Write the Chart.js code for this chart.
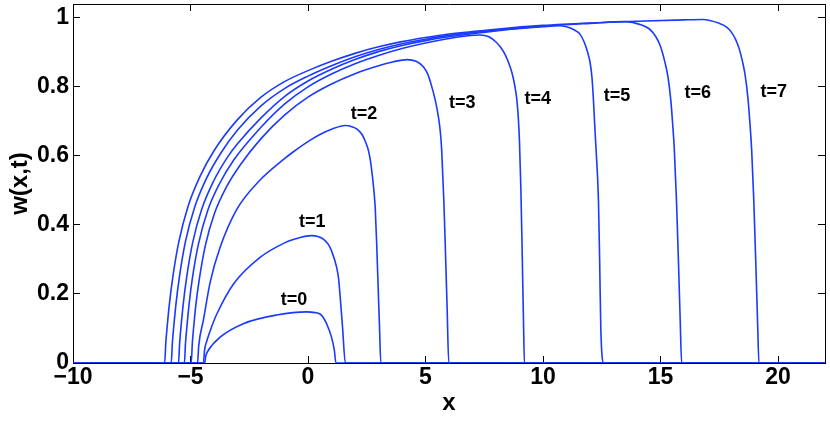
<!DOCTYPE html>
<html>
<head>
<meta charset="utf-8">
<script src="https://cdn.jsdelivr.net/npm/chart.js@4.4.0/dist/chart.umd.min.js"></script>
<style>
  html, body { margin: 0; padding: 0; background: #fff; }
  canvas { display: block; }
</style>
</head>
<body>
<canvas id="c" width="830" height="422"></canvas>
<script>
// ---- data ----
const xTicks = [-10, -5, 0, 5, 10, 15, 20];
const yTicks = [0, 0.2, 0.4, 0.6, 0.8, 1];
const curveNames = ['t=0', 't=1', 't=2', 't=3', 't=4', 't=5', 't=6', 't=7'];

const x0 = [-10, -4.4, -4.35, -4.24, -3.74, -2.75, -1.33, -0.06, 0.3, 0.51, 0.65, 0.79, 1.0, 1.12, 1.19, 22];
const w0 = [0, 0, 0.02, 0.037, 0.075, 0.114, 0.139, 0.148, 0.146, 0.142, 0.132, 0.114, 0.075, 0.037, 0, 0];

const x1 = [-10, -4.45, -4.4, -4.3, -4.1, -3.88, -3.17, -2.04, -1.0, -0.62, 0.15, 0.45, 0.65, 0.85, 1.0, 1.22, 1.3, 1.36, 1.47, 1.59, 22];
const w1 = [0, 0, 0.038, 0.065, 0.105, 0.142, 0.229, 0.306, 0.348, 0.358, 0.369, 0.366, 0.359, 0.345, 0.325, 0.277, 0.245, 0.2, 0.104, 0, 0];

const x2 = [-10, -4.7, -4.65, -4.45, -4.16, -3.74, -3.03, -2.04, -1.0, -0.62, 0.08, 0.51, 1.0, 1.58, 1.9, 2.1, 2.3, 2.45, 2.57, 2.67, 2.75, 2.81, 2.86, 2.92, 2.98, 3.04, 3.1, 22];
const w2 = [0, 0, 0.05, 0.125, 0.235, 0.335, 0.445, 0.53, 0.592, 0.612, 0.645, 0.662, 0.677, 0.688, 0.684, 0.677, 0.662, 0.64, 0.616, 0.58, 0.535, 0.495, 0.45, 0.35, 0.23, 0.11, 0, 0];

const x3 = [-10, -4.97, -4.92, -4.87, -4.77, -4.62, -4.37, -3.97, -3.47, -2.87, -2.0, -1.0, 0, 1, 2, 3, 3.6, 4.21, 4.6, 4.91, 5.1, 5.27, 5.42, 5.55, 5.63, 5.69, 5.78, 5.85, 5.92, 5.99, 22];
const w3 = [0, 0, 0.06, 0.10, 0.17, 0.245, 0.34, 0.435, 0.51, 0.575, 0.65, 0.718, 0.77, 0.808, 0.838, 0.861, 0.872, 0.879, 0.874, 0.858, 0.836, 0.80, 0.76, 0.713, 0.67, 0.616, 0.471, 0.32, 0.16, 0, 0];

const x4 = [-10, -5.26, -5.21, -5.16, -5.06, -4.91, -4.66, -4.26, -3.76, -3.16, -2.0, -1.0, 0, 1, 2, 3, 4, 5, 6, 6.8, 7.32, 7.7, 8.0, 8.18, 8.4, 8.6, 8.72, 8.82, 8.89, 8.95, 9.0, 9.06, 9.12, 9.17, 9.21, 22];
const w4 = [0, 0, 0.06, 0.10, 0.17, 0.25, 0.345, 0.443, 0.52, 0.588, 0.683, 0.75, 0.8, 0.837, 0.867, 0.891, 0.911, 0.927, 0.94, 0.948, 0.95, 0.945, 0.93, 0.916, 0.892, 0.858, 0.83, 0.795, 0.761, 0.71, 0.64, 0.5, 0.3, 0.12, 0, 0];

const x5 = [-10, -5.51, -5.46, -5.41, -5.31, -5.16, -4.91, -4.51, -4.01, -3.41, -3.0, -2.0, -1.0, 0, 1, 2, 3, 4, 5, 6, 8, 10, 10.7, 11.0, 11.3, 11.58, 11.75, 11.9, 12.0, 12.08, 12.14, 12.2, 12.26, 12.36, 12.41, 12.46, 12.59, 22];
const w5 = [0, 0, 0.06, 0.10, 0.17, 0.25, 0.348, 0.448, 0.528, 0.598, 0.635, 0.71, 0.772, 0.817, 0.851, 0.879, 0.902, 0.92, 0.934, 0.945, 0.962, 0.974, 0.977, 0.974, 0.966, 0.952, 0.93, 0.9, 0.872, 0.83, 0.77, 0.69, 0.616, 0.471, 0.3, 0.1, 0, 0];

const x6 = [-10, -5.82, -5.77, -5.72, -5.62, -5.47, -5.22, -4.82, -4.32, -3.72, -3.0, -2.0, -1.0, 0, 1, 2, 3, 4, 5, 6, 8, 10, 12, 13.5, 14.2, 14.5, 14.7, 14.9, 15.05, 15.2, 15.32, 15.44, 15.52, 15.59, 15.68, 15.77, 15.84, 15.9, 22];
const w6 = [0, 0, 0.06, 0.10, 0.17, 0.25, 0.35, 0.452, 0.535, 0.607, 0.675, 0.745, 0.795, 0.831, 0.861, 0.887, 0.908, 0.925, 0.938, 0.949, 0.964, 0.976, 0.984, 0.989, 0.979, 0.969, 0.955, 0.933, 0.907, 0.868, 0.828, 0.76, 0.69, 0.616, 0.471, 0.28, 0.12, 0, 0];

const x7 = [-10, -6.1, -6.05, -6.0, -5.9, -5.75, -5.5, -5.1, -4.6, -4.0, -3.0, -2.0, -1.0, 0, 1, 2, 3, 4, 5, 6, 8, 10, 12, 14, 16, 16.8, 17.5, 17.8, 18.0, 18.2, 18.35, 18.5, 18.61, 18.73, 18.81, 18.88, 18.97, 19.06, 19.13, 19.19, 22];
const w7 = [0, 0, 0.06, 0.10, 0.17, 0.25, 0.35, 0.455, 0.54, 0.615, 0.705, 0.77, 0.815, 0.847, 0.874, 0.897, 0.916, 0.931, 0.943, 0.953, 0.967, 0.978, 0.985, 0.99, 0.994, 0.995, 0.984, 0.974, 0.96, 0.937, 0.91, 0.87, 0.83, 0.761, 0.69, 0.616, 0.471, 0.28, 0.12, 0, 0];

// label anchor points (data coordinates)
const labelX = [-0.60, 0.18, 2.38, 6.56, 9.78, 13.15, 16.59, 19.82];
const labelW = [0.181, 0.408, 0.721, 0.752, 0.765, 0.774, 0.781, 0.785];

const xs = [x0, x1, x2, x3, x4, x5, x6, x7];
const ws = [w0, w1, w2, w3, w4, w5, w6, w7];

// ---- styling ----
const FONT = '"Liberation Sans", Arial, Helvetica, sans-serif';
const LINE = '#1a3aff';
const TICK_IN = -7;   // inward tick marks
const fmt = v => (v < 0 ? '\u2212' + Math.abs(v) : String(Math.round(v * 10) / 10));

const datasets = xs.map((xa, i) => ({
  label: curveNames[i],
  data: xa.map((x, j) => ({ x: x, y: ws[i][j] })),
  borderColor: LINE,
  borderWidth: 1.6,
  pointRadius: 0,
  fill: false,
  cubicInterpolationMode: 'monotone'
}));

const textPlugin = {
  id: 'curveText',
  afterDraw(chart) {
    const { ctx, chartArea: a, scales } = chart;
    ctx.save();
    ctx.fillStyle = '#000';
    ctx.font = 'bold 18px ' + FONT;
    ctx.textAlign = 'center';
    ctx.textBaseline = 'middle';
    curveNames.forEach((n, i) => {
      ctx.fillText(n, scales.x.getPixelForValue(labelX[i]), scales.y.getPixelForValue(labelW[i]));
    });
    ctx.font = 'bold 24px ' + FONT;
    ctx.textBaseline = 'alphabetic';
    ctx.fillText('x', (a.left + a.right) / 2, 410);
    ctx.translate(27, (a.top + a.bottom) / 2);
    ctx.rotate(-Math.PI / 2);
    ctx.fillText('w(x,t)', 0, 0);
    ctx.restore();
  }
};

const noPad = s => { s.paddingTop = 0; s.paddingBottom = 0; s.paddingLeft = 0; s.paddingRight = 0; };
const tickGrid = { display: true, drawOnChartArea: false, drawTicks: true, tickLength: TICK_IN, color: '#000000', lineWidth: 1 };
const frameBorder = { display: true, color: '#000000', width: 1 };
const tickFont = { family: FONT, size: 23, weight: 'bold' };
const setX = s => { s.ticks = xTicks.map(v => ({ value: v })); };
const setY = s => { s.ticks = yTicks.map(v => ({ value: v })); };

new Chart(document.getElementById('c').getContext('2d'), {
  type: 'line',
  data: { datasets },
  options: {
    responsive: false,
    animation: false,
    devicePixelRatio: 1,
    layout: { autoPadding: false, padding: { top: 4, right: 5, left: 0, bottom: 0 } },
    plugins: { legend: { display: false }, tooltip: { enabled: false } },
    scales: {
      x: {
        type: 'linear', position: 'bottom', min: -10, max: 22,
        afterBuildTicks: setX,
        afterFit: s => { s.height = 59; noPad(s); },
        grid: tickGrid, border: frameBorder,
        ticks: { color: '#000', font: tickFont, padding: 1 - TICK_IN, maxRotation: 0, autoSkip: false, callback: v => fmt(v) }
      },
      y: {
        type: 'linear', position: 'left', min: 0, max: 1.04,
        afterBuildTicks: setY,
        afterFit: s => { s.width = 73; noPad(s); },
        grid: tickGrid, border: frameBorder,
        ticks: { color: '#000', font: tickFont, padding: 4 - TICK_IN, autoSkip: false, callback: v => fmt(v) }
      },
      xTop: {
        type: 'linear', position: 'top', min: -10, max: 22,
        afterBuildTicks: setX,
        afterFit: s => { s.height = 0; noPad(s); },
        grid: tickGrid, border: frameBorder,
        ticks: { display: false }
      },
      yRight: {
        type: 'linear', position: 'right', min: 0, max: 1.04,
        afterBuildTicks: setY,
        afterFit: s => { s.width = 0; noPad(s); },
        grid: tickGrid, border: frameBorder,
        ticks: { display: false }
      }
    }
  },
  plugins: [textPlugin]
});
</script>
</body>
</html>
